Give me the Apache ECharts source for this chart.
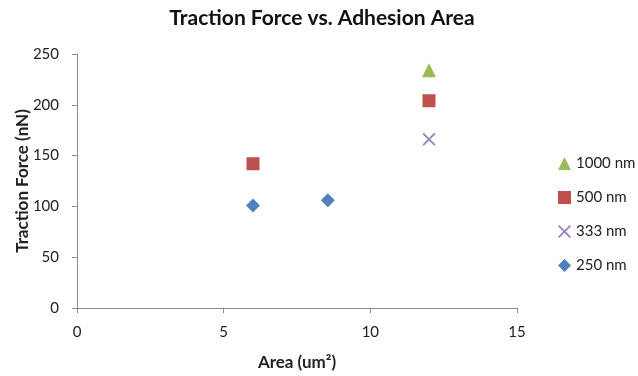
<!DOCTYPE html>
<html><head><meta charset="utf-8">
<script src="https://cdn.jsdelivr.net/npm/echarts@6/dist/echarts.min.js"></script>
<style>html,body{margin:0;padding:0;background:#fff}#c{width:638px;height:376px}</style>
</head><body><div id="c"></div>
<script>
const title = 'Traction Force vs. Adhesion Area';
const xName = 'Area (um²)';
const yName = 'Traction Force (nN)';
const s1000 = [[12, 234]];
const s500 = [[6, 142], [12, 204]];
const s333 = [[12, 166]];
const s250 = [[6, 101], [8.55, 106]];
const seriesNames = ['1000 nm', '500 nm', '333 nm', '250 nm'];
const xRange = [0, 15, 5];
const yRange = [0, 250, 50];

const F = 'Lato, "Open Sans", sans-serif';
const xPath = 'path://M0,1L1,0L5,4L9,0L10,1L6,5L10,9L9,10L5,6L1,10L0,9L4,5Z';
const chart = echarts.init(document.getElementById('c'));
chart.setOption({
  animation: false,
  title: {text: title, left: 317, textAlign: 'center', top: 3,
    textStyle: {fontFamily: F, fontWeight: 'bold', fontSize: 21, color: '#111'}},
  grid: {left: 77, right: 121, top: 54, bottom: 68, containLabel: false, outerBoundsMode: 'none'},
  legend: {orient: 'vertical', left: 553, top: 151, itemGap: 19, itemWidth: 13, itemHeight: 13,
    data: seriesNames,
    textStyle: {fontFamily: F, fontSize: 15, color: '#222'}},
  xAxis: {type: 'value', min: xRange[0], max: xRange[1], interval: xRange[2],
    name: xName, nameLocation: 'middle', nameGap: 46, nameMoveOverlap: false,
    nameTextStyle: {fontFamily: F, fontWeight: 'bold', fontSize: 17, color: '#222'},
    axisLine: {lineStyle: {color: '#8c8c8c', width: 1}},
    axisTick: {show: true, length: 5, lineStyle: {color: '#8c8c8c'}},
    splitLine: {show: false},
    axisLabel: {fontFamily: F, fontSize: 15, color: '#222', margin: 17}},
  yAxis: {type: 'value', min: yRange[0], max: yRange[1], interval: yRange[2],
    name: yName, nameLocation: 'middle', nameGap: 46, nameRotate: 90, nameMoveOverlap: false,
    nameTextStyle: {fontFamily: F, fontWeight: 'bold', fontSize: 17, color: '#222'},
    axisLine: {show: true, lineStyle: {color: '#8c8c8c', width: 1}},
    axisTick: {show: true, length: 5, lineStyle: {color: '#8c8c8c'}},
    splitLine: {show: false},
    axisLabel: {fontFamily: F, fontSize: 15, color: '#222', margin: 18}},
  series: [
    {name: seriesNames[0], type: 'scatter', data: s1000, symbol: 'triangle', symbolSize: 14,
      itemStyle: {color: '#9BBB59', opacity: 1}},
    {name: seriesNames[1], type: 'scatter', data: s500, symbol: 'rect', symbolSize: 13,
      itemStyle: {color: '#C0504D', opacity: 1}},
    {name: seriesNames[2], type: 'scatter', data: s333, symbol: xPath, symbolSize: 13,
      itemStyle: {color: '#9a86bd', opacity: 1}},
    {name: seriesNames[3], type: 'scatter', data: s250, symbol: 'diamond', symbolSize: 14,
      itemStyle: {color: '#4F81BD', opacity: 1}}
  ]
});
</script></body></html>
